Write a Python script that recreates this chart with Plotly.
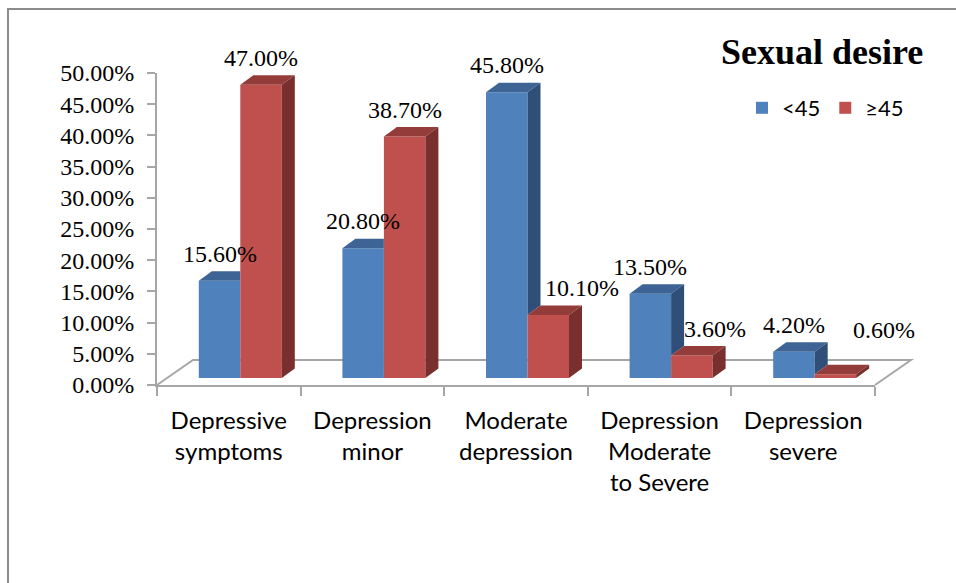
import plotly.graph_objects as go

# ---- data -----------------------------------------------------------------
categories = [
    "Depressive<br>symptoms",
    "Depression<br>minor",
    "Moderate<br>depression",
    "Depression<br>Moderate<br>to Severe",
    "Depression<br>severe",
]
series_names = ["<45", "≥45"]
under_45 = [15.6, 20.8, 45.8, 13.5, 4.2]
over_45 = [47.0, 38.7, 10.1, 3.6, 0.6]
y_ticks = [0, 5, 10, 15, 20, 25, 30, 35, 40, 45, 50]

# ---- styling / geometry -----------------------------------------------------
W, H = 956, 583
FRAME_L, FRAME_R = 157, 875          # plot frame (px)
FRAME_B, FRAME_T = 385, 73           # y=0 and y=50 (px)
BAR_SHIFT_X, BAR_SHIFT_Y = 11.5, 7   # bars sit a little back on the floor
FLOOR_DX, FLOOR_DY = 36, 25          # depth of the floor (px)
FACE_DX, FACE_DY = 13, 9.5           # depth of each column (px)
BAR_W = 0.289                        # column width in category units

SERIF = "Liberation Serif"
SANS = "Lato"
GRID = "#a6a6a6"

front = ["#4f81bd", "#c0504d"]
top = ["#3d6494", "#943c3a"]
side = ["#2f4e78", "#782f2d"]

# label nudges (px) for crowded labels: (x, y) per series
label_nudge = [
    [(0, 0), (0, 0), (0, 0), (0, 0), (0, 0)],
    [(0, 0), (0, 0), (34, 0), (23, 0), (49, 17)],
]

px_per_cat = (FRAME_R - FRAME_L) / 5.0
px_per_pct = (FRAME_B - FRAME_T) / 50.0
fdx = FACE_DX / px_per_cat
fdy = FACE_DY / px_per_pct

fig = go.Figure()

# invisible carrier so the category / percentage frame axes get drawn
fig.add_trace(go.Scatter(
    x=list(range(len(categories))), y=under_45, mode="markers",
    marker=dict(opacity=0), xaxis="x", yaxis="y",
    showlegend=False, hoverinfo="skip",
))

values = [under_45, over_45]
axes = [("x2", "y2"), ("x3", "y3")]
offsets = [-BAR_W / 2, BAR_W / 2]

for s in range(2):
    xa, ya = axes[s]
    vals = values[s]
    other = values[1 - s]
    xs = [i + offsets[s] for i in range(len(vals))]
    fig.add_trace(go.Bar(
        x=xs, y=vals, width=BAR_W, name=series_names[s],
        marker=dict(color=front[s], line=dict(width=0)),
        xaxis=xa, yaxis=ya, hoverinfo="skip",
    ))
    for i, v in enumerate(vals):
        xl, xr = xs[i] - BAR_W / 2, xs[i] + BAR_W / 2
        # top face
        tx = [xl, xr, xr + fdx, xl + fdx, xl]
        ty = [v, v, v + fdy, v + fdy, v]
        if s == 0 and other[i] > v:
            # right part hidden behind the taller neighbouring column
            tx = [xl, xr, xr, xl + fdx, xl]
            ty = [v, v, v + fdy, v + fdy, v]
        fig.add_trace(go.Scatter(
            x=tx, y=ty, fill="toself", mode="lines", fillcolor=top[s],
            line=dict(width=0, color=top[s]), xaxis=xa, yaxis=ya,
            showlegend=False, hoverinfo="skip",
        ))
        # side face (the blue one only shows above the red column)
        lo = 0.0
        if s == 0:
            lo = other[i]
        if v > lo:
            sx = [xr, xr, xr + fdx, xr + fdx, xr]
            sy = [lo, v, v + fdy, lo + fdy, lo]
            fig.add_trace(go.Scatter(
                x=sx, y=sy, fill="toself", mode="lines", fillcolor=side[s],
                line=dict(width=0, color=side[s]), xaxis=xa, yaxis=ya,
                showlegend=False, hoverinfo="skip",
            ))
        nx, ny = label_nudge[s][i]
        fig.add_annotation(
            x=xs[i], y=v, xref=xa, yref=ya, text=f"{v:.2f}%",
            showarrow=False, xanchor="center", yanchor="middle",
            xshift=nx, yshift=27 + ny,
            font=dict(family=SERIF, size=24, color="#000000"),
        )


def px_x(p):
    return p / W


def px_y(p):
    return (H - p) / H


# floor outline behind the columns
floor_path = (
    f"M{px_x(FRAME_L)},{px_y(FRAME_B)} "
    f"L{px_x(FRAME_L + FLOOR_DX)},{px_y(FRAME_B - FLOOR_DY)} "
    f"L{px_x(FRAME_R + FLOOR_DX)},{px_y(FRAME_B - FLOOR_DY)} "
    f"L{px_x(FRAME_R)},{px_y(FRAME_B)}"
)
fig.add_shape(type="path", path=floor_path, xref="paper", yref="paper",
              line=dict(color=GRID, width=2), layer="below")

# outer chart border (top and left edges visible)
fig.add_shape(type="rect", xref="paper", yref="paper",
              x0=px_x(8), x1=1.05, y0=-0.05, y1=px_y(9),
              line=dict(color="#8c8c8c", width=2), layer="below")

# chart title
fig.add_annotation(
    x=px_x(822), y=px_y(52), xref="paper", yref="paper",
    text="<b>Sexual desire</b>", showarrow=False,
    xanchor="center", yanchor="middle",
    font=dict(family=SERIF, size=36, color="#000000"),
)

fig.update_layout(
    width=W, height=H,
    margin=dict(l=0, r=0, t=0, b=0, pad=0, autoexpand=False),
    paper_bgcolor="white", plot_bgcolor="rgba(0,0,0,0)",
    barmode="overlay",
    showlegend=True,
    legend=dict(
        orientation="h", x=px_x(742), y=px_y(108), xanchor="left",
        yanchor="middle", font=dict(family=SANS, size=22, color="#000000"),
        bgcolor="rgba(0,0,0,0)", traceorder="normal",
    ),
    xaxis=dict(
        domain=[px_x(FRAME_L), px_x(FRAME_R)], range=[-0.5, 4.5],
        anchor="y", showgrid=False, zeroline=False, automargin=False,
        showline=True, linecolor=GRID, linewidth=2,
        tickmode="array", tickvals=list(range(len(categories))),
        ticktext=categories, ticks="",
        tickfont=dict(family=SANS, size=24, color="#000000"),
        ticklabelstandoff=13,
        minor=dict(tickmode="array",
                   tickvals=[i - 0.5 for i in range(len(categories) + 1)],
                   ticks="outside", ticklen=9, tickcolor=GRID, tickwidth=2),
        fixedrange=True,
    ),
    yaxis=dict(
        domain=[px_y(FRAME_B), px_y(FRAME_T)], range=[0, 50],
        anchor="x", showgrid=False, zeroline=False, automargin=False,
        showline=True, linecolor=GRID, linewidth=2,
        tickmode="array", tickvals=y_ticks,
        ticktext=[f"{t:.2f}%" for t in y_ticks],
        ticks="outside", ticklen=8, tickcolor=GRID, tickwidth=2,
        tickfont=dict(family=SERIF, size=24, color="#000000"),
        ticklabelstandoff=8,
        fixedrange=True,
    ),
    xaxis2=dict(
        domain=[px_x(FRAME_L + BAR_SHIFT_X), px_x(FRAME_R + BAR_SHIFT_X)],
        range=[-0.5, 4.5], anchor="y2", visible=False, fixedrange=True,
    ),
    yaxis2=dict(
        domain=[px_y(FRAME_B - BAR_SHIFT_Y), px_y(FRAME_T - BAR_SHIFT_Y)],
        range=[0, 50], anchor="x2", visible=False, fixedrange=True,
    ),
    xaxis3=dict(overlaying="x2", range=[-0.5, 4.5], anchor="y3",
                visible=False, fixedrange=True),
    yaxis3=dict(overlaying="y2", range=[0, 50], anchor="x3",
                visible=False, fixedrange=True),
)

fig.write_html("out.html")
